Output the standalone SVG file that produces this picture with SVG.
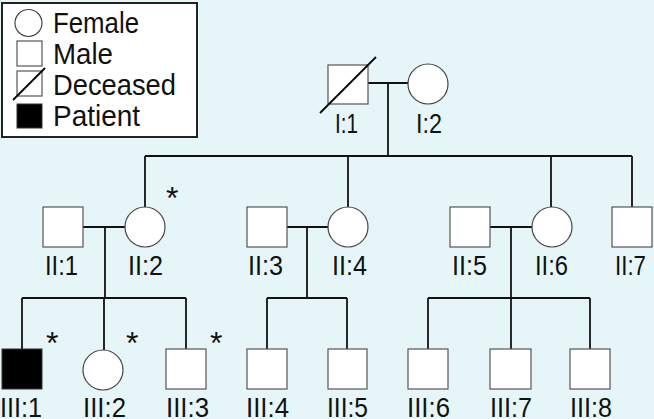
<svg xmlns="http://www.w3.org/2000/svg" width="654" height="419" viewBox="0 0 654 419">
<style>
.bg{fill:#e6f6f8}
.sq{fill:#ffffff;stroke:#555;stroke-width:1.2}
.ci{fill:#ffffff;stroke:#444;stroke-width:1.2}
.pt{fill:#000;stroke:#333;stroke-width:1}
.dx{stroke:#000;stroke-width:1.8;fill:none}
.ln{stroke:#111;stroke-width:1.8;fill:none}
.lab{font-family:"Liberation Sans",Arial,sans-serif;font-size:28px;fill:#111}
.leg{font-family:"Liberation Sans",Arial,sans-serif;font-size:29px;fill:#111}
.ast{font-family:"Liberation Sans",Arial,sans-serif;font-size:32px;fill:#111}
</style>
<rect class="bg" x="0" y="0" width="654" height="419"/>
<g id="legend">
<rect x="2" y="3" width="195" height="134" fill="#fff" stroke="#222" stroke-width="2"/>
<circle class="ci" cx="28.5" cy="23" r="13.5"/>
<text class="leg" x="53" y="33" textLength="86" lengthAdjust="spacingAndGlyphs">Female</text>
<rect class="sq" x="17" y="41" width="25" height="25"/>
<text class="leg" x="53" y="64" textLength="60" lengthAdjust="spacingAndGlyphs">Male</text>
<rect class="sq" x="17" y="71" width="25" height="25"/>
<line class="dx" x1="13" y1="100" x2="45" y2="68"/>
<text class="leg" x="53" y="95" textLength="123" lengthAdjust="spacingAndGlyphs">Deceased</text>
<rect class="pt" x="17" y="104" width="25" height="24"/>
<text class="leg" x="53" y="126" textLength="87" lengthAdjust="spacingAndGlyphs">Patient</text>
</g>
<g id="connectors">
<line class="ln" x1="368" y1="83" x2="408" y2="83"/>
<line class="ln" x1="388" y1="83" x2="388" y2="156"/>
<line class="ln" x1="145" y1="156" x2="632" y2="156"/>
<line class="ln" x1="145" y1="156" x2="145" y2="207"/>
<line class="ln" x1="348" y1="156" x2="348" y2="207"/>
<line class="ln" x1="551" y1="156" x2="551" y2="207"/>
<line class="ln" x1="632" y1="156" x2="632" y2="207"/>
<line class="ln" x1="83" y1="227" x2="125" y2="227"/>
<line class="ln" x1="105" y1="227" x2="105" y2="298"/>
<line class="ln" x1="22" y1="298" x2="186" y2="298"/>
<line class="ln" x1="22" y1="298" x2="22" y2="349"/>
<line class="ln" x1="104" y1="298" x2="104" y2="350"/>
<line class="ln" x1="186" y1="298" x2="186" y2="349"/>
<line class="ln" x1="287" y1="227" x2="328" y2="227"/>
<line class="ln" x1="307" y1="227" x2="307" y2="298"/>
<line class="ln" x1="267" y1="298" x2="347" y2="298"/>
<line class="ln" x1="267" y1="298" x2="267" y2="349"/>
<line class="ln" x1="347" y1="298" x2="347" y2="349"/>
<line class="ln" x1="490" y1="227" x2="532" y2="227"/>
<line class="ln" x1="511" y1="227" x2="511" y2="298"/>
<line class="ln" x1="428" y1="298" x2="590" y2="298"/>
<line class="ln" x1="428" y1="298" x2="428" y2="349"/>
<line class="ln" x1="511" y1="298" x2="511" y2="349"/>
<line class="ln" x1="590" y1="298" x2="590" y2="349"/>
</g>
<g id="I1">
<rect class="sq" x="328" y="65" width="40" height="39"/>
<line class="dx" x1="320" y1="113" x2="376" y2="57"/>
<text class="lab" x="335" y="133" textLength="23" lengthAdjust="spacingAndGlyphs">I:1</text>
</g>
<g id="I2">
<circle class="ci" cx="428" cy="84" r="20"/>
<text class="lab" x="416" y="133" textLength="26" lengthAdjust="spacingAndGlyphs">I:2</text>
</g>
<g id="II1">
<rect class="sq" x="43" y="207" width="40" height="40"/>
<text class="lab" x="45" y="275" textLength="33" lengthAdjust="spacingAndGlyphs">II:1</text>
</g>
<g id="II2">
<circle class="ci" cx="145" cy="227" r="20"/>
<text class="ast" x="166" y="209">*</text>
<text class="lab" x="128" y="275" textLength="35" lengthAdjust="spacingAndGlyphs">II:2</text>
</g>
<g id="II3">
<rect class="sq" x="247" y="207" width="40" height="40"/>
<text class="lab" x="248" y="275" textLength="35" lengthAdjust="spacingAndGlyphs">II:3</text>
</g>
<g id="II4">
<circle class="ci" cx="348" cy="227" r="20"/>
<text class="lab" x="332" y="275" textLength="35" lengthAdjust="spacingAndGlyphs">II:4</text>
</g>
<g id="II5">
<rect class="sq" x="450" y="207" width="40" height="40"/>
<text class="lab" x="452" y="275" textLength="35" lengthAdjust="spacingAndGlyphs">II:5</text>
</g>
<g id="II6">
<circle class="ci" cx="552" cy="227" r="20"/>
<text class="lab" x="535" y="275" textLength="33" lengthAdjust="spacingAndGlyphs">II:6</text>
</g>
<g id="II7">
<rect class="sq" x="612" y="207" width="40" height="40"/>
<text class="lab" x="615" y="275" textLength="31" lengthAdjust="spacingAndGlyphs">II:7</text>
</g>
<g id="III1">
<rect class="pt" x="2" y="349" width="40" height="40"/>
<text class="ast" x="46" y="354">*</text>
<text class="lab" x="0" y="417" textLength="42" lengthAdjust="spacingAndGlyphs">III:1</text>
</g>
<g id="III2">
<circle class="ci" cx="103" cy="370" r="20"/>
<text class="ast" x="126" y="354">*</text>
<text class="lab" x="83" y="417" textLength="43" lengthAdjust="spacingAndGlyphs">III:2</text>
</g>
<g id="III3">
<rect class="sq" x="166" y="349" width="40" height="40"/>
<text class="ast" x="210" y="354">*</text>
<text class="lab" x="166" y="417" textLength="43" lengthAdjust="spacingAndGlyphs">III:3</text>
</g>
<g id="III4">
<rect class="sq" x="247" y="349" width="40" height="40"/>
<text class="lab" x="246" y="417" textLength="43" lengthAdjust="spacingAndGlyphs">III:4</text>
</g>
<g id="III5">
<rect class="sq" x="328" y="349" width="39" height="40"/>
<text class="lab" x="327" y="417" textLength="41" lengthAdjust="spacingAndGlyphs">III:5</text>
</g>
<g id="III6">
<rect class="sq" x="408" y="349" width="40" height="40"/>
<text class="lab" x="407" y="417" textLength="43" lengthAdjust="spacingAndGlyphs">III:6</text>
</g>
<g id="III7">
<rect class="sq" x="490" y="349" width="41" height="40"/>
<text class="lab" x="490" y="417" textLength="42" lengthAdjust="spacingAndGlyphs">III:7</text>
</g>
<g id="III8">
<rect class="sq" x="570" y="349" width="40" height="40"/>
<text class="lab" x="570" y="417" textLength="42" lengthAdjust="spacingAndGlyphs">III:8</text>
</g>
</svg>
